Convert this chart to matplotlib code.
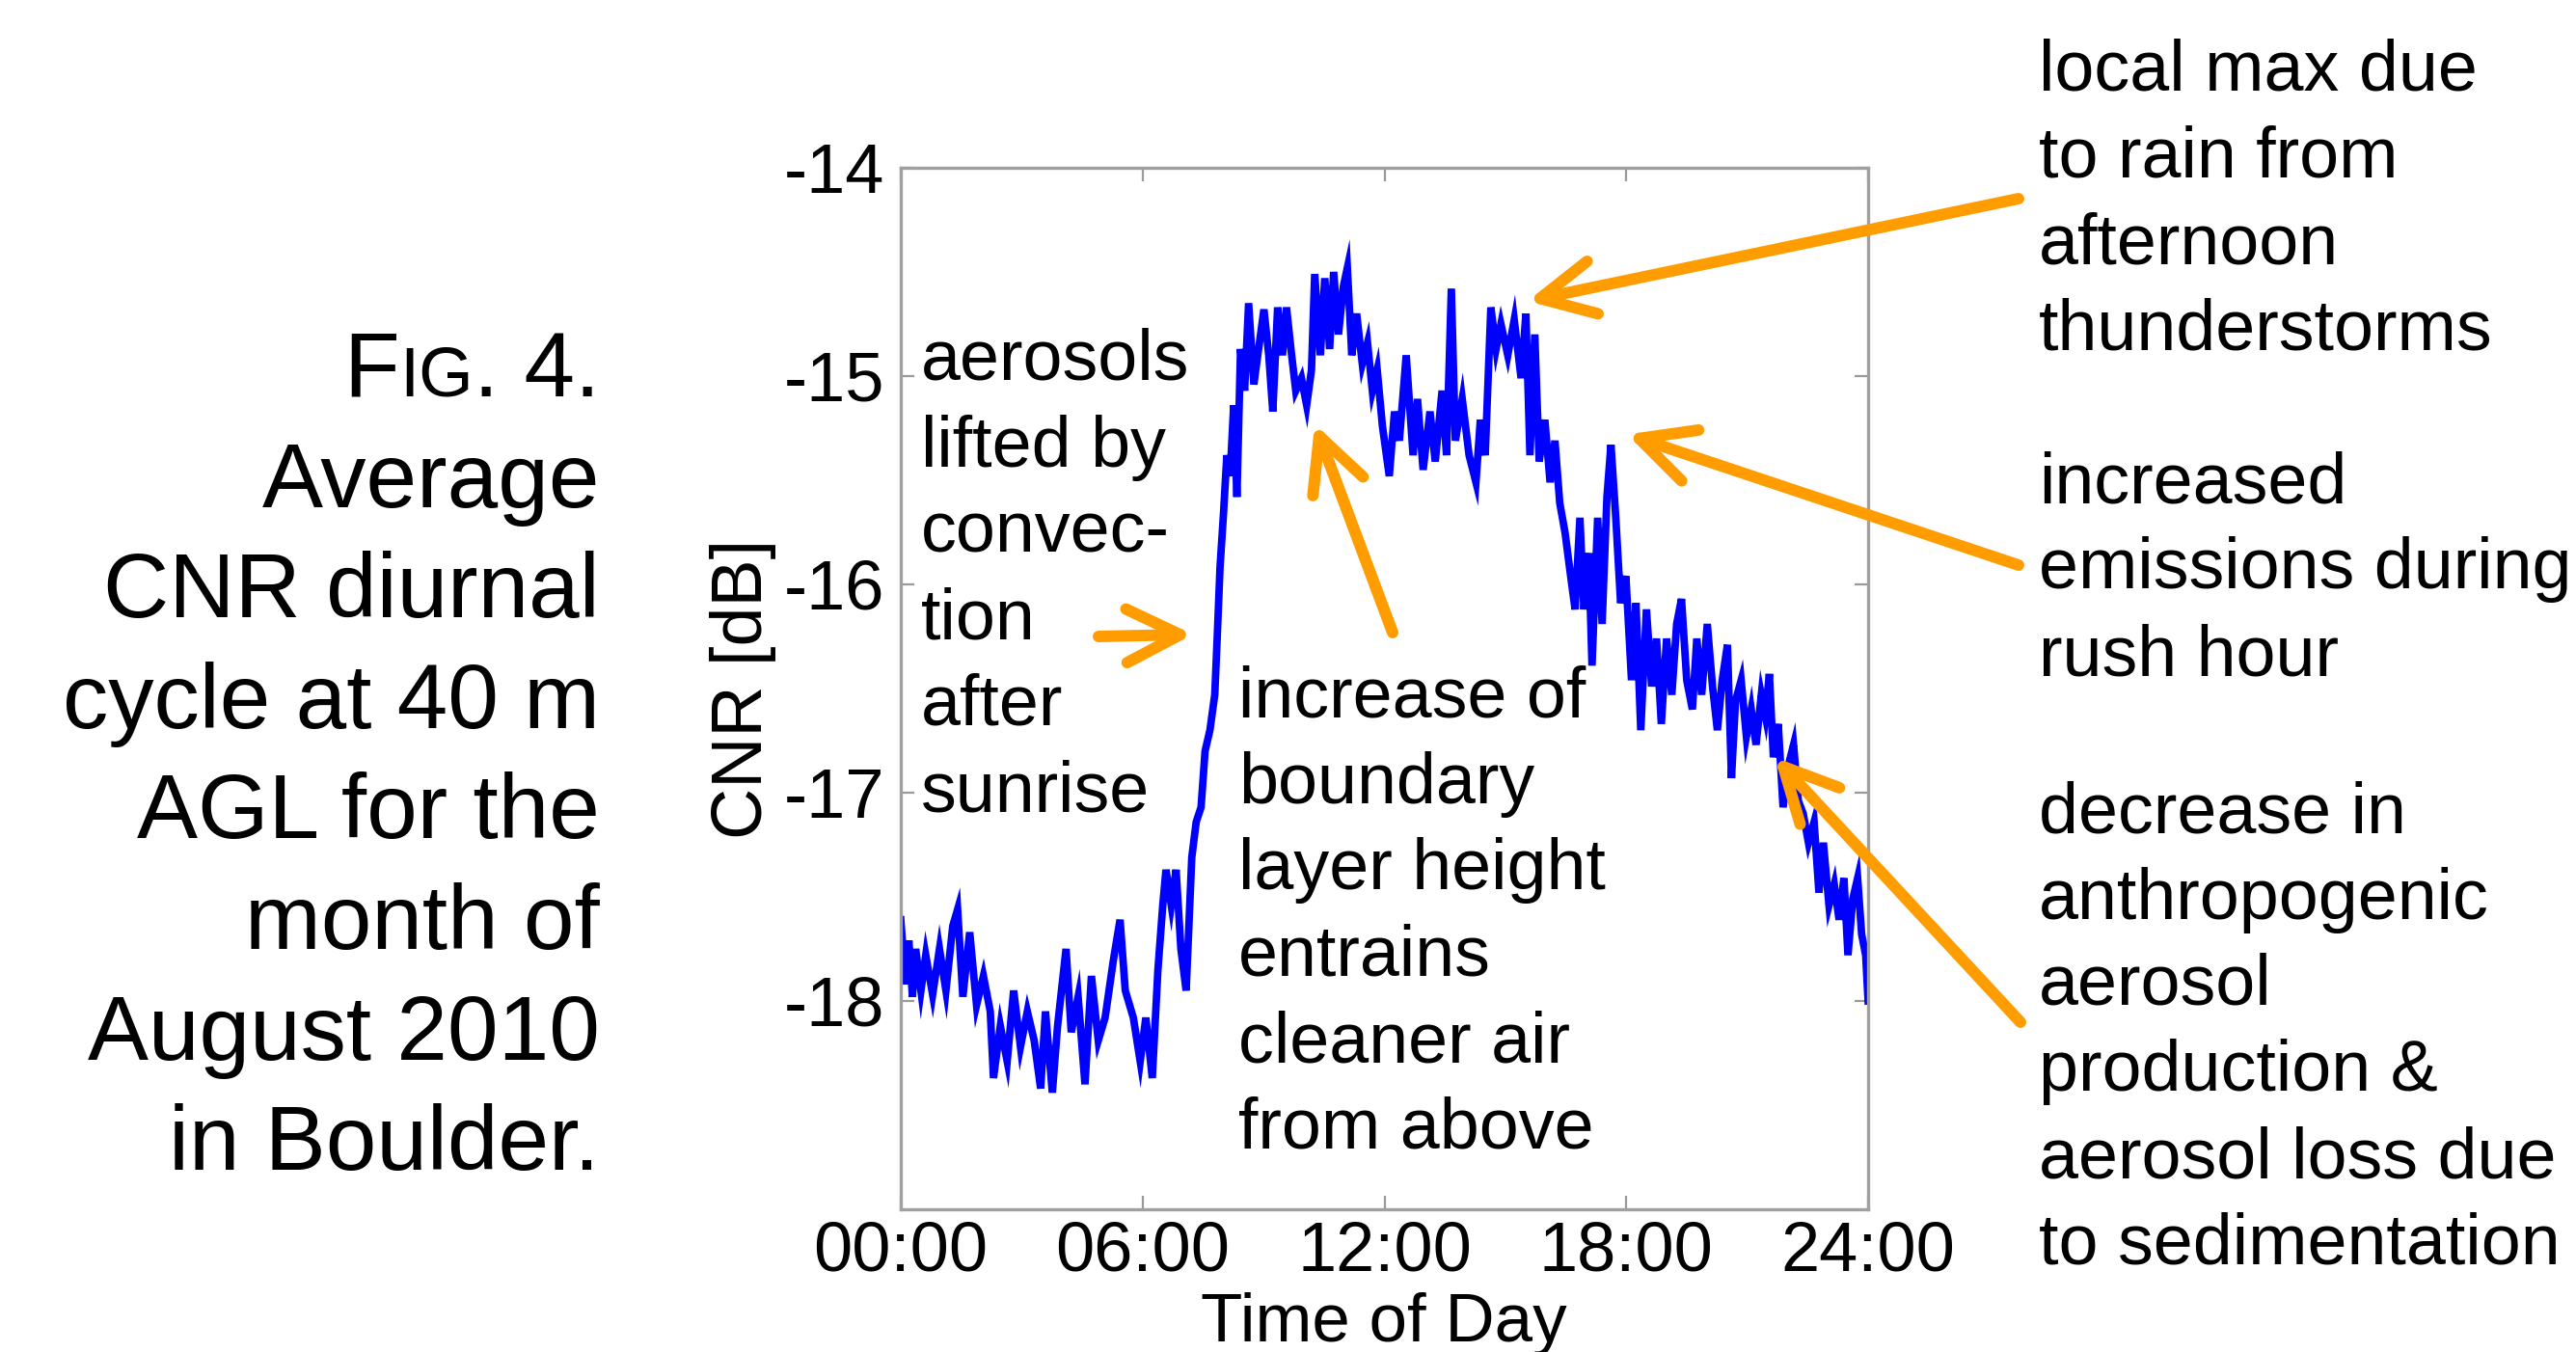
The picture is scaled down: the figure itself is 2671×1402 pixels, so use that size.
import matplotlib
matplotlib.use('Agg')
import matplotlib.pyplot as plt

plt.rcParams['font.family'] = ['Liberation Sans', 'DejaVu Sans']
plt.rcParams['axes.unicode_minus'] = False

W, H, DPI = 2671, 1402, 200

# averaged CNR trace (hours, dB)
time_h = [0.00, 0.12, 0.20, 0.29, 0.37, 0.50, 0.62, 0.79, 0.96, 1.12, 1.29, 1.41, 1.54, 1.71,
          1.88, 2.05, 2.22, 2.30, 2.47, 2.64, 2.80, 2.97, 3.14, 3.31, 3.47, 3.59, 3.76, 3.89,
          4.10, 4.23, 4.40, 4.57, 4.73, 4.90, 5.07, 5.27, 5.44, 5.57, 5.77, 5.94, 6.08, 6.24,
          6.38, 6.50, 6.58, 6.71, 6.83, 6.95, 7.08, 7.22, 7.33, 7.45, 7.55, 7.67, 7.79, 7.85,
          7.92, 8.01, 8.09, 8.17, 8.26, 8.34, 8.43, 8.53, 8.63, 8.76, 8.90, 9.01, 9.13, 9.23,
          9.35, 9.47, 9.57, 9.68, 9.80, 9.94, 10.07, 10.19, 10.27, 10.41, 10.52, 10.64, 10.74,
          10.86, 10.98, 11.08, 11.19, 11.31, 11.45, 11.58, 11.70, 11.82, 11.95, 12.12, 12.25,
          12.37, 12.54, 12.71, 12.82, 12.96, 13.13, 13.26, 13.43, 13.54, 13.66, 13.76, 13.93,
          14.10, 14.27, 14.38, 14.50, 14.64, 14.77, 14.89, 15.06, 15.22, 15.39, 15.51, 15.61,
          15.73, 15.84, 15.98, 16.11, 16.23, 16.35, 16.48, 16.62, 16.73, 16.85, 16.95, 17.07,
          17.15, 17.29, 17.40, 17.52, 17.62, 17.74, 17.86, 17.99, 18.13, 18.24, 18.36, 18.50,
          18.63, 18.75, 18.87, 19.00, 19.13, 19.25, 19.37, 19.50, 19.64, 19.75, 19.87, 20.01,
          20.14, 20.26, 20.38, 20.51, 20.61, 20.71, 20.85, 20.98, 21.10, 21.22, 21.35, 21.45,
          21.55, 21.65, 21.77, 21.89, 22.02, 22.15, 22.27, 22.39, 22.52, 22.66, 22.78, 22.89,
          23.03, 23.16, 23.28, 23.40, 23.50, 23.62, 23.74, 23.84, 23.94, 24.00]
cnr_db = [-17.61, -17.92, -17.71, -17.98, -17.75, -17.95, -17.78, -17.97, -17.75, -17.95, -17.64,
          -17.56, -17.98, -17.67, -18.02, -17.88, -18.05, -18.37, -18.12, -18.29, -17.95, -18.22,
          -18.05, -18.19, -18.42, -18.05, -18.44, -18.12, -17.75, -18.15, -17.98, -18.40, -17.88,
          -18.19, -18.08, -17.81, -17.61, -17.95, -18.08, -18.29, -18.08, -18.37, -17.85, -17.54,
          -17.37, -17.54, -17.37, -17.75, -17.95, -17.31, -17.14, -17.07, -16.80, -16.70, -16.53,
          -16.26, -15.92, -15.65, -15.38, -15.48, -15.14, -15.58, -14.87, -15.07, -14.65, -15.04,
          -14.84, -14.68, -14.90, -15.17, -14.67, -14.90, -14.67, -14.87, -15.07, -15.01, -15.14,
          -14.97, -14.51, -14.90, -14.53, -14.87, -14.50, -14.80, -14.57, -14.48, -14.90, -14.70,
          -14.94, -14.84, -15.07, -14.97, -15.24, -15.48, -15.17, -15.31, -14.90, -15.38, -15.11,
          -15.45, -15.17, -15.41, -15.07, -15.38, -14.58, -15.31, -15.11, -15.38, -15.51, -15.21,
          -15.38, -14.67, -14.87, -14.75, -14.90, -14.73, -15.01, -14.70, -15.38, -14.80, -15.41,
          -15.21, -15.51, -15.31, -15.61, -15.75, -15.96, -16.12, -15.68, -16.12, -15.85, -16.39,
          -15.68, -16.19, -15.58, -15.33, -15.68, -16.09, -15.96, -16.46, -16.09, -16.70, -16.12,
          -16.49, -16.26, -16.67, -16.26, -16.53, -16.19, -16.07, -16.46, -16.60, -16.26, -16.53,
          -16.19, -16.49, -16.70, -16.46, -16.29, -16.93, -16.56, -16.46, -16.73, -16.60, -16.77,
          -16.53, -16.63, -16.43, -16.83, -16.67, -17.07, -16.87, -16.77, -17.04, -17.10, -17.24,
          -17.14, -17.48, -17.24, -17.54, -17.44, -17.61, -17.41, -17.78, -17.51, -17.41, -17.68,
          -17.78, -18.00]

xtick_hours = [0, 6, 12, 18, 24]
xtick_labels = ['00:00', '06:00', '12:00', '18:00', '24:00']
ytick_vals = [-18, -17, -16, -15, -14]
ytick_labels = ['-18', '-17', '-16', '-15', '-14']

caption_lines = ['Average', 'CNR diurnal', 'cycle at 40 m', 'AGL for the',
                 'month of', 'August 2010', 'in Boulder.']

aerosol_lines = ['aerosols', 'lifted by', 'convec-', 'tion', 'after', 'sunrise']
bl_lines = ['increase of', 'boundary', 'layer height', 'entrains', 'cleaner air', 'from above']
rain_lines = ['local max due', 'to rain from', 'afternoon', 'thunderstorms']
rush_lines = ['increased', 'emissions during', 'rush hour']
decay_lines = ['decrease in', 'anthropogenic', 'aerosol', 'production &',
               'aerosol loss due', 'to sedimentation']

# arrow heads in data units (hour, dB), tails in image pixels
arrow_heads = [(7.25, -16.24), (10.27, -15.23), (15.55, -14.64), (18.02, -15.28), (21.68, -16.83)]
arrow_tails = [(1139, 660), (1444, 656), (2093, 206), (2093, 586), (2095, 1060)]


def fx(px):
    return px / W


def fy(py):
    return 1 - py / H


fig = plt.figure(figsize=(W / DPI, H / DPI), dpi=DPI)
ax = fig.add_axes([fx(934), fy(1254), fx(1937) - fx(934), fy(174) - fy(1254)])

ax.plot(time_h, cnr_db, color='#0000FF', lw=2.8, solid_joinstyle='miter')
ax.set_xlim(0, 24)
ax.set_ylim(-19, -14)
ax.set_xticks(xtick_hours)
ax.set_xticklabels(xtick_labels)
ax.set_yticks(ytick_vals)
ax.set_yticklabels(ytick_labels)
ax.tick_params(direction='in', length=5, width=0.8, color='#9a9a9a', labelsize=26,
               top=True, right=True)
ax.tick_params(axis='x', pad=4)
ax.tick_params(axis='y', pad=6)
for s in ax.spines.values():
    s.set_color('#a0a0a0')
    s.set_linewidth(1.2)

fig.text(fx(1435), fy(1391), 'Time of Day', ha='center', va='baseline', fontsize=25.5)
fig.text(fx(770), fy(714), 'CNR [dB]', ha='center', va='center', rotation=90, fontsize=26.5)

# caption on the left, first line with small caps
cap_size = 34
cap_x = 622
cap_y0 = 411
cap_step = 114.6
t3 = fig.text(fx(cap_x), fy(cap_y0), '. 4.', ha='right', va='baseline', fontsize=cap_size)
fig.canvas.draw()
r = fig.canvas.get_renderer()
x_left = t3.get_window_extent(r).x0
t2 = fig.text(x_left / W, fy(cap_y0), 'IG', ha='right', va='baseline', fontsize=cap_size * 0.77)
x_left = t2.get_window_extent(r).x0
fig.text(x_left / W, fy(cap_y0), 'F', ha='right', va='baseline', fontsize=cap_size)
for i, line in enumerate(caption_lines):
    fig.text(fx(cap_x), fy(cap_y0 + (i + 1) * cap_step), line, ha='right', va='baseline',
             fontsize=cap_size)

# annotation text blocks
note_size = 26.5
note_step = 89.5
for lines, x0, y0 in [(aerosol_lines, 955, 394), (bl_lines, 1284, 743),
                      (rain_lines, 2114, 94), (rush_lines, 2114, 521),
                      (decay_lines, 2114, 863)]:
    for i, line in enumerate(lines):
        fig.text(fx(x0), fy(y0 + i * note_step), line, ha='left', va='baseline',
                 fontsize=note_size)

for head, tail in zip(arrow_heads, arrow_tails):
    ax.annotate('', xy=head, xycoords='data',
                xytext=(fx(tail[0]), fy(tail[1])), textcoords='figure fraction',
                annotation_clip=False,
                arrowprops=dict(arrowstyle='->,head_length=1.0,head_width=0.5',
                                mutation_scale=20, color='#FF9C00', lw=4.3,
                                shrinkA=0, shrinkB=0, capstyle='round', joinstyle='round'),
                zorder=5)

fig.savefig('out.png', dpi=DPI)
